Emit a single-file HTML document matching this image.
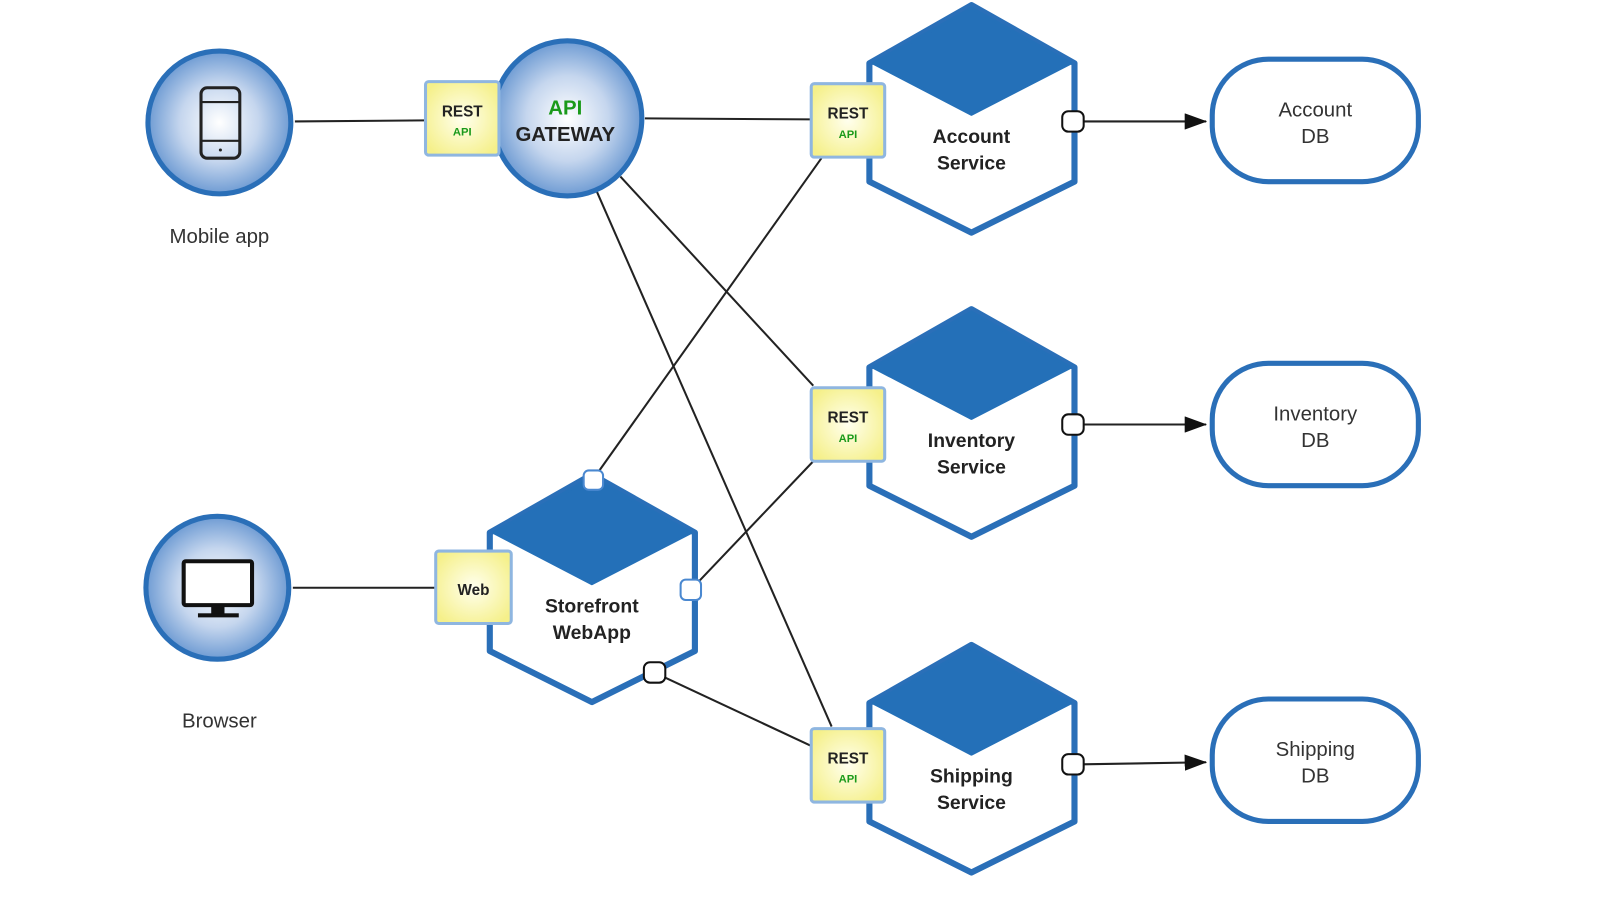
<!DOCTYPE html>
<html><head><meta charset="utf-8"><style>
html,body{margin:0;padding:0;background:#fff;}
svg{display:block}
text{font-family:"Liberation Sans",sans-serif}
</style></head><body>
<svg width="1600" height="923" viewBox="0 0 1568 904.5" preserveAspectRatio="none" xmlns="http://www.w3.org/2000/svg">
<defs>
<radialGradient id="rg" cx="50%" cy="50%" r="50%">
<stop offset="0" stop-color="#ffffff"/><stop offset="0.55" stop-color="#c5d6ee"/><stop offset="1" stop-color="#6e9bd3"/>
</radialGradient>
<radialGradient id="yg" cx="50%" cy="50%" r="60%">
<stop offset="0" stop-color="#ffffee"/><stop offset="1" stop-color="#f5f08a"/>
</radialGradient>
<marker id="ar" markerWidth="22" markerHeight="16" refX="21" refY="8" orient="auto" markerUnits="userSpaceOnUse">
<path d="M0,0 L22,8 L0,16 Z" fill="#111"/>
</marker>
<g id="hex">
<path d="M952,5 L1053,62 L1053,178 L952,228 L852,178 L852,62 Z" fill="#fff" stroke="#2a6fb8" stroke-width="6" stroke-linejoin="round"/>
<path d="M952,8 L1049,62 L952,112 L856,62 Z" fill="#2470b8" stroke="#2470b8" stroke-width="3" stroke-linejoin="round"/>
</g>
<g id="rest">
<rect x="0" y="0" width="72" height="72" rx="3" fill="url(#yg)" stroke="#8fb6e0" stroke-width="3"/>
<text x="36" y="34" font-size="15" font-weight="bold" text-anchor="middle" fill="#222">REST</text>
<text x="36" y="53" font-size="11" font-weight="bold" text-anchor="middle" fill="#1a9a1a">API</text>
</g>
</defs>

<g stroke="#222" stroke-width="2" fill="none">
<line x1="289" y1="119" x2="417" y2="118"/>
<line x1="632" y1="116" x2="795" y2="117"/>
<line x1="608" y1="173" x2="797" y2="378"/>
<line x1="585" y1="188" x2="815" y2="712"/>
<line x1="581" y1="470" x2="805" y2="155"/>
<line x1="677" y1="578" x2="797" y2="452"/>
<line x1="641" y1="659" x2="795" y2="731"/>
<line x1="287" y1="576" x2="427" y2="576"/>
<line x1="1061" y1="119" x2="1182" y2="119" marker-end="url(#ar)"/>
<line x1="1061" y1="416" x2="1182" y2="416" marker-end="url(#ar)"/>
<line x1="1061" y1="749" x2="1182" y2="747" marker-end="url(#ar)"/>
</g>

<circle cx="215" cy="120" r="70" fill="url(#rg)" stroke="#2a6fb8" stroke-width="5"/>
<rect x="197" y="86" width="38" height="69" rx="6" fill="none" stroke="#222" stroke-width="3"/>
<line x1="197" y1="100" x2="235" y2="100" stroke="#222" stroke-width="2"/>
<line x1="197" y1="138" x2="235" y2="138" stroke="#222" stroke-width="2"/>
<circle cx="216" cy="147" r="1.5" fill="#222"/>
<text x="215" y="238" font-size="20" text-anchor="middle" fill="#333">Mobile app</text>

<circle cx="213" cy="576" r="70" fill="url(#rg)" stroke="#2a6fb8" stroke-width="5"/>
<rect x="180" y="550" width="67" height="43" rx="2" fill="#fff" stroke="#111" stroke-width="4"/>
<rect x="207" y="593" width="13" height="9" fill="#111"/>
<rect x="194" y="601" width="40" height="4" fill="#111"/>
<text x="215" y="713" font-size="20" text-anchor="middle" fill="#333">Browser</text>

<ellipse cx="556" cy="116" rx="73" ry="76" fill="url(#rg)" stroke="#2a6fb8" stroke-width="5"/>
<text x="554" y="112" font-size="20" font-weight="bold" text-anchor="middle" fill="#1a9a1a">API</text>
<text x="554" y="138" font-size="20" font-weight="bold" text-anchor="middle" fill="#222">GATEWAY</text>
<use href="#rest" transform="translate(417,80)"/>

<use href="#hex"/>
<text x="952" y="140" font-size="19" font-weight="bold" text-anchor="middle" fill="#222">Account</text>
<text x="952" y="166" font-size="19" font-weight="bold" text-anchor="middle" fill="#222">Service</text>
<use href="#rest" transform="translate(795,82)"/>

<use href="#hex" transform="translate(0,298)"/>
<text x="952" y="438" font-size="19" font-weight="bold" text-anchor="middle" fill="#222">Inventory</text>
<text x="952" y="464" font-size="19" font-weight="bold" text-anchor="middle" fill="#222">Service</text>
<use href="#rest" transform="translate(795,380)"/>

<use href="#hex" transform="translate(0,627)"/>
<text x="952" y="767" font-size="19" font-weight="bold" text-anchor="middle" fill="#222">Shipping</text>
<text x="952" y="793" font-size="19" font-weight="bold" text-anchor="middle" fill="#222">Service</text>
<use href="#rest" transform="translate(795,714)"/>

<use href="#hex" transform="translate(-372,460)"/>
<text x="580" y="600" font-size="19" font-weight="bold" text-anchor="middle" fill="#222">Storefront</text>
<text x="580" y="626" font-size="19" font-weight="bold" text-anchor="middle" fill="#222">WebApp</text>
<rect x="427" y="540" width="74" height="71" rx="3" fill="url(#yg)" stroke="#8fb6e0" stroke-width="3"/>
<text x="464" y="583" font-size="15" font-weight="bold" text-anchor="middle" fill="#222">Web</text>

<rect x="572" y="461" width="19" height="19" rx="5" fill="#fff" stroke="#4a88d0" stroke-width="2"/>
<rect x="667" y="568" width="20" height="20" rx="5" fill="#fff" stroke="#4a88d0" stroke-width="2"/>
<rect x="631" y="649" width="21" height="20" rx="6" fill="#fff" stroke="#111" stroke-width="2"/>
<rect x="1041" y="109" width="21" height="20" rx="6" fill="#fff" stroke="#111" stroke-width="2"/>
<rect x="1041" y="406" width="21" height="20" rx="6" fill="#fff" stroke="#111" stroke-width="2"/>
<rect x="1041" y="739" width="21" height="20" rx="6" fill="#fff" stroke="#111" stroke-width="2"/>

<rect x="1188" y="58" width="202" height="120" rx="55" fill="#fff" stroke="#2a6fb8" stroke-width="5"/>
<text x="1289" y="114" font-size="20" text-anchor="middle" fill="#333">Account</text>
<text x="1289" y="140" font-size="20" text-anchor="middle" fill="#333">DB</text>
<rect x="1188" y="356" width="202" height="120" rx="55" fill="#fff" stroke="#2a6fb8" stroke-width="5"/>
<text x="1289" y="412" font-size="20" text-anchor="middle" fill="#333">Inventory</text>
<text x="1289" y="438" font-size="20" text-anchor="middle" fill="#333">DB</text>
<rect x="1188" y="685" width="202" height="120" rx="55" fill="#fff" stroke="#2a6fb8" stroke-width="5"/>
<text x="1289" y="741" font-size="20" text-anchor="middle" fill="#333">Shipping</text>
<text x="1289" y="767" font-size="20" text-anchor="middle" fill="#333">DB</text>
</svg>
</body></html>
